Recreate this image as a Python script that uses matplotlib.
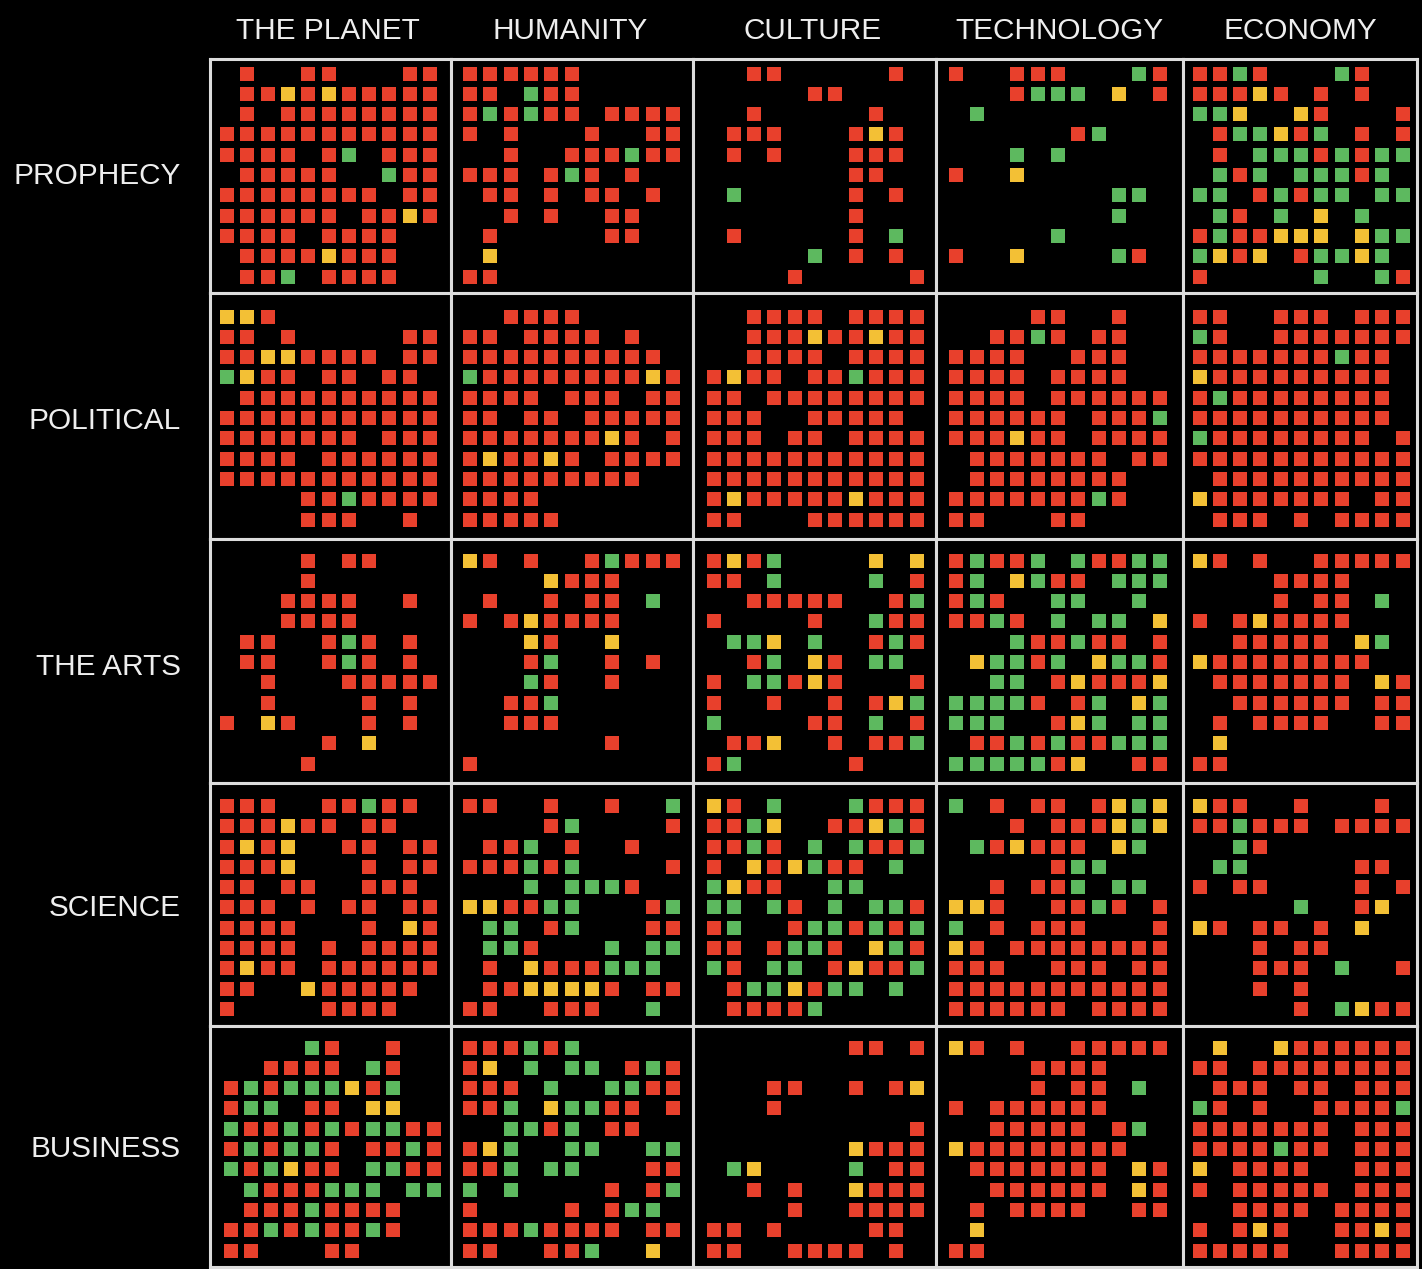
import matplotlib
matplotlib.use("Agg")
import matplotlib.pyplot as plt

# column / row names
columns = ["THE PLANET", "HUMANITY", "CULTURE", "TECHNOLOGY", "ECONOMY"]
rows = ["PROPHECY", "POLITICAL", "THE ARTS", "SCIENCE", "BUSINESS"]

# r = red, g = green, y = yellow, . = empty
prophecy_planet = [".r..rr...rr", ".rryryrrrrr", ".r.rrrrrrrr", "rrrrrrrrrrr", "rrrr.rg.rrr", ".rrrrr..grr",
                   "rrrrrrrr.rr", "rrrrrr.rryr", "rrrr.rrrr..", ".rrrryrrr..", ".rrg.rrrr.."]
prophecy_humanity = ["rrrrrr.....", "rr.grr.....", "rgrgrr.rrrr", "r.r...r..rr", "..r..rrrgrr", "rrr.rgr.r..",
                     ".rr.r.rr.r.", "..r.r..rr..", ".r.....rr..", ".y.........", "rr........."]
prophecy_culture = ["..rr.....r.", ".....rr....", "..r.....r..", ".rrr...ryr.", ".r.r...rrr.", ".......rr..",
                    ".g.....r.r.", ".......r...", ".r.....r.g.", ".....g.r.r.", "....r.....r"]
prophecy_technology = ["r..rrr...gr", "...rggg.y.r", ".g.........", "......rg...", "...g.g.....", "r..y.......",
                       "........gg.", "........g..", ".....g.....", "r..y....gr.", "..........."]
prophecy_economy = ["rrgr...gr..", "rrryr.r.r..", "ggy..yr...r", ".rggyrg.r.r", ".r.gggrgrgg", ".grg.gggrg.",
                    "gg.rgrgg.gg", ".gr.g.y.g..", "rgrryyy.ygg", "gyry.rggyg.", "r.....g..gr"]

political_planet = ["yyr........", "rr.r.....rr", "rryyrrrr.rr", "gyrr.rr.rr.", ".rrrrrrrrrr", "rrrrrrrrrrr",
                    "rrrrrrr.rrr", "rrrr.rrrrrr", "rrrrrrrrrrr", "....rrgrrrr", "....rrr..r."]
political_humanity = ["..rrrr.....", "rr.rrrr.r..", "rrrrrrrrrr.", "grrrrrrrryr", "rrrr.rrr.rr", "rr.rr.rrrrr",
                      "rrrrrrryr.r", "ryrryr.rrrr", "rrrrrrrrr..", "rrrr.......", "rrrrr......"]
political_culture = ["..rrrr.rrrr", "..rrryrryrr", "..rrrr.rrrr", "ryrr.rrgrrr", "rr.rrrrrrrr", "rrr..rrrrr.",
                     "rrr.rr.rrrr", "rrrrrrrrrrr", "rrrrrrrrrrr", "ryrrrrryrrr", "rr...rrrrrr"]
political_technology = ["....rr..r..", "..rrgr.rr..", "rrrr..rrr..", "rrrr.rrrr..", "rrrr.rrrrrr", "rrrrrr.rrrg",
                        "rrryrr.rrrr", ".rrrrrrr.rr", ".rrrrrrrr..", "rrrrrrrgr..", "rr...rr...."]
political_economy = ["rr..rrr.rrr", "gr..rrrrrrr", "rrrrrrrgrr.", "yrrrrrrrrr.", "rgrrrrrrrr.", "rrrrrrrrrr.",
                     "grrrrrrrr.r", "rrrrrrrrrrr", ".rrrrrrrrrr", "yrrrrrrr.rr", ".rrr.r.rrrr"]

arts_planet = ["....r.rr...", "....r......", "...rrrr..r.", "...rrrr....", ".rr..rgr.r.", ".rr..rgr.r.",
               "..r...rrrrr", "..r....r.r.", "r.yr...r.r.", ".....r.y...", "....r......"]
arts_humanity = ["yr.r..rgrrr", "....yrrr...", ".r..r.rr.g.", "r.ryrrrr...", "...yr..y...", "...rg..r.r.",
                 "...gr..r...", "..rrg......", "..rrr......", ".......r...", "r.........."]
arts_culture = ["ryrg....y.y", "rr.g....g.r", "..rrrrr..rg", "r....r..grr", ".ggy.g..rgr", "..rg.yr.gg.",
                "r.ggryr...r", "r..r..r.ryg", "g....rr.g.r", ".rry..r.rrg", "rg.....r..."]
arts_technology = ["rgrrg.grrgg", "rg.ygrr.ggg", "rgr..gg..g.", "rrgr.g.gg.y", "...grrgrr.r", ".yggrg.yggr",
                   "..gg.ryrrry", "ggggr.rg.yg", "ggg..ryg.gg", ".rrgrgrrggg", "gggggry..rr"]
arts_economy = ["yr.r..rrrrr", "....rrrr...", "....r.rr.g.", "r.ryrrrr...", "..rrrrr.yg.", "yrrrrrrrr..",
                ".rrrrrrr.yr", "..rrrrrr.rr", ".r.rrrr..rr", ".y.........", "rr........."]

science_planet = ["rrr..rrgrr.", "rrryrr.rr..", "ryry..rr.rr", "rrry...r.rr", "rr.rr..rrr.", "rrr.r.rr.rr",
                  "rrrr...r.yr", "rrrr.r.rrrr", "ryrr.rrrrrr", "rr..yrrrrr.", "r....rrrr.."]
science_humanity = ["rr..r..r..g", "....rg....r", ".rrg.r..r..", "rrrgrg....r", "...g.gggr..", "yyrrgg...rg",
                    ".gg.rg...rr", ".ggr...g.gg", ".r.yrrrggg.", ".rryyyyr.rr", "rr..rrr..g."]
science_culture = ["yr.g...grrr", "rrgy..rrygr", "rrgr.g.grrg", "r.yrygrr.g.", "gyrr..gg...", "gg.gr.g.ggr",
                   "rg..rggrgrg", "rr.rggr.ygr", "gr.gg.ryrrg", ".rggyrgg.g.", ".rrrrg....."]
science_technology = ["g.r.rr.rygy", "...r.rrrygy", ".gryrrr.yg.", ".....rgg...", "..r.rrg.gg.", "yyr..rrgr.r",
                      "g.r.rrr...r", "yr.rrrrrrrr", "rrr..rrr.rr", "rrrrrrrrrrr", "rrrrrr.rrrr"]
science_economy = ["yrr..r...r.", "rrgrrr.rrrr", "..gr.......", ".gg.....rr.", "r.rr....r.r", ".....g..ry.",
                   "yr.rr.r.y..", "...r.rr....", "...rrr.g..r", "...r.r.....", ".....r.gyrr"]

business_planet = ["....gr..r..", "..rrrr.gr..", "rgrgggyrg..", "rgg.rr.yy..", "grrgrgrggrr", "rgrggr.rrgr",
                   "grgyrr.ggrr", ".grrrggg.gg", ".rrrgrrrr..", "rrgrgrrgr..", "rr...rr...."]
business_humanity = ["rrrgrg.....", "ry.g.gg.rgr", "rrr.g..ggrr", "rrg.yggrr.r", "..ggrg.rr..", "ryg..gg..gg",
                     "rrg.gg...rr", "g.g....r.rg", "r....r.rgg.", "rrrgrrrr.rr", "rr..rrg..y."]
business_culture = [".......rr.r", "...........", "...rr..r.ry", "...r.......", "..........r", ".......yrrr",
                    ".gy....g.rr", "..r.r..yrrr", "....r..rrrr", "rr.r....rr.", "rr..rrrr.r."]
business_technology = ["yr.r..rrrrr", "....rrrr...", "....r.rr.g.", "r.rrrrrr...", "..rrrrr.rg.", "yrrrrrrrr..",
                       ".rrrrrrr.yr", "..rrrrrr.yr", ".r.rrrr..rr", ".y.........", "rr........."]
business_economy = [".y..yrrrrrr", "rr.rrrrrrrr", ".rrr.rr.rrr", "gr.r..rrrrg", "rrrrrrr.rrr", "rrrrgrr.rrr",
                    "y.rrrr..rrr", "r.rrrrr.rrr", "..rrrr.rrrr", "r.ryr..rryr", "rrrrr..rrrr"]

panels = [
    [prophecy_planet, prophecy_humanity, prophecy_culture, prophecy_technology, prophecy_economy],
    [political_planet, political_humanity, political_culture, political_technology, political_economy],
    [arts_planet, arts_humanity, arts_culture, arts_technology, arts_economy],
    [science_planet, science_humanity, science_culture, science_technology, science_economy],
    [business_planet, business_humanity, business_culture, business_technology, business_economy],
]

colors = {"r": "#e8402c", "g": "#5db95f", "y": "#f3c035"}

W, H = 1422, 1269
x_edges = [210, 451, 693, 936, 1183, 1417]
y_edges = [59, 293, 539, 783, 1026, 1267]
# pixel centre of the first cell in each column / row of panels
first_x = [227, 470, 713.5, 956.5, 1199.5]
first_y = [73.5, 316.5, 560.5, 806, 1047.5]
pitch = 20.3

header_x = [328, 570, 813, 1059, 1300]
label_y = [173, 418, 664, 905, 1146]

plt.rcParams["font.family"] = ["Liberation Sans", "DejaVu Sans"]

fig = plt.figure(figsize=(W / 100, H / 100), dpi=100, facecolor="black")

for r in range(5):
    for c in range(5):
        left, right = x_edges[c], x_edges[c + 1]
        top, bottom = y_edges[r], y_edges[r + 1]
        ax = fig.add_axes([left / W, 1 - bottom / H, (right - left) / W, (bottom - top) / H])
        ax.set_facecolor("black")
        x0 = first_x[c] + (3.5 if r == 4 and c == 0 else 0)
        ax.set_xlim((left - x0) / pitch, (right - x0) / pitch)
        ax.set_ylim((bottom - first_y[r]) / pitch, (top - first_y[r]) / pitch)
        ax.set_xticks([])
        ax.set_yticks([])
        for s in ax.spines.values():
            s.set_color("#dcdcdc")
            s.set_linewidth(2.2)
        for key, col in colors.items():
            xs, ys = [], []
            for i, line in enumerate(panels[r][c]):
                for j, ch in enumerate(line):
                    if ch == key:
                        xs.append(j)
                        ys.append(i)
            ax.scatter(xs, ys, marker="s", s=112, color=col, linewidths=0)

for name, x in zip(columns, header_x):
    fig.text(x / W, 1 - 31 / H, name, color="#eeeeee", fontsize=21.4, ha="center", va="center")
for name, y in zip(rows, label_y):
    fig.text(181 / W, 1 - (y + 3) / H, name, color="#eeeeee", fontsize=21.4, ha="right", va="center")

fig.savefig("out.png", dpi=100, facecolor="black")
